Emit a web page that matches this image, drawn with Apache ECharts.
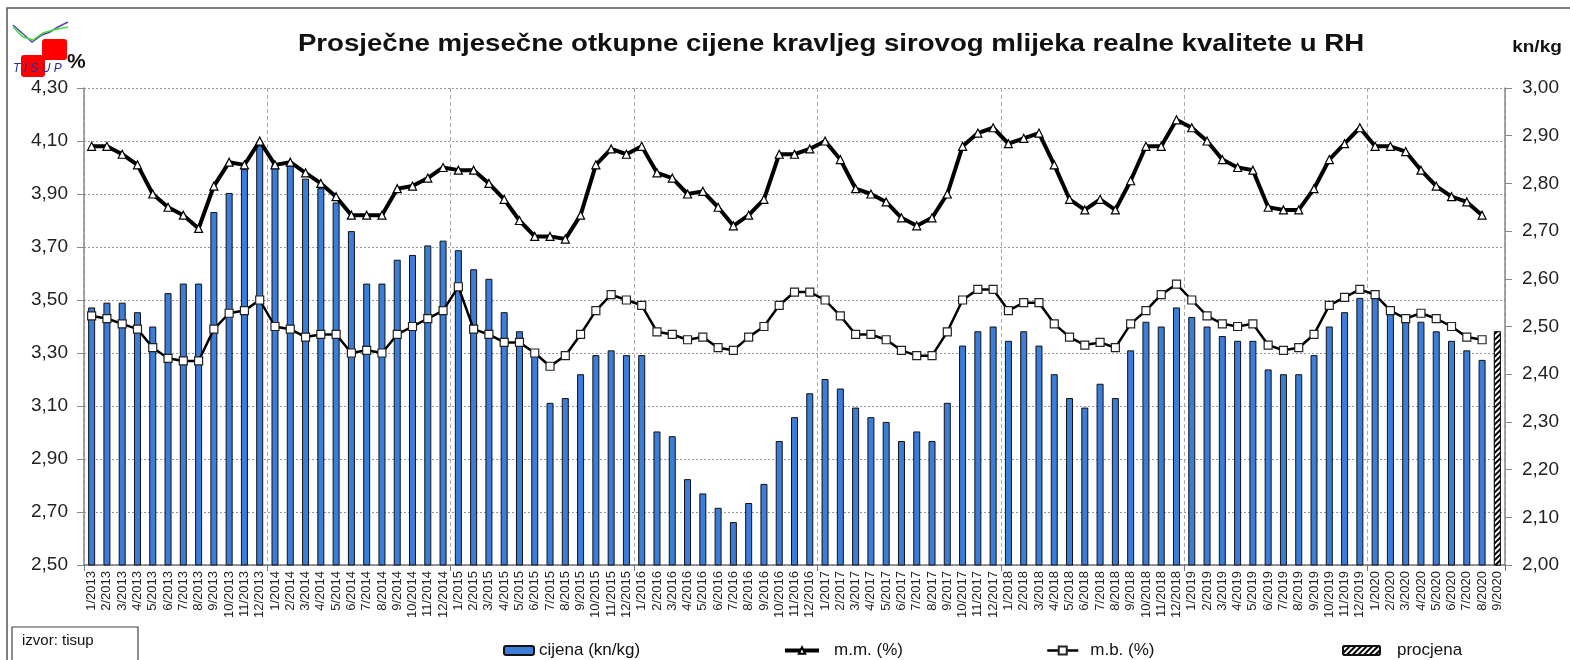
<!DOCTYPE html>
<html lang="hr">
<head>
<meta charset="UTF-8">
<title>Otkupne cijene mlijeka</title>
<style>
  html, body { margin: 0; padding: 0; background: #fff; }
  #chart { width: 1570px; height: 660px; }
</style>
</head>
<body>
<div id="chart"></div>
<script src="https://cdn.jsdelivr.net/npm/echarts@6/dist/echarts.min.js"></script>
<script>
// mjeseci
const months = [
  '1/2013','2/2013','3/2013','4/2013','5/2013','6/2013','7/2013','8/2013','9/2013','10/2013','11/2013','12/2013',
  '1/2014','2/2014','3/2014','4/2014','5/2014','6/2014','7/2014','8/2014','9/2014','10/2014','11/2014','12/2014',
  '1/2015','2/2015','3/2015','4/2015','5/2015','6/2015','7/2015','8/2015','9/2015','10/2015','11/2015','12/2015',
  '1/2016','2/2016','3/2016','4/2016','5/2016','6/2016','7/2016','8/2016','9/2016','10/2016','11/2016','12/2016',
  '1/2017','2/2017','3/2017','4/2017','5/2017','6/2017','7/2017','8/2017','9/2017','10/2017','11/2017','12/2017',
  '1/2018','2/2018','3/2018','4/2018','5/2018','6/2018','7/2018','8/2018','9/2018','10/2018','11/2018','12/2018',
  '1/2019','2/2019','3/2019','4/2019','5/2019','6/2019','7/2019','8/2019','9/2019','10/2019','11/2019','12/2019',
  '1/2020','2/2020','3/2020','4/2020','5/2020','6/2020','7/2020','8/2020','9/2020'
];

// cijena kn/kg (desna os)
const cijena = [
  2.54, 2.55, 2.55, 2.53, 2.50, 2.57, 2.59, 2.59, 2.74, 2.78, 2.83, 2.88,
  2.84, 2.84, 2.81, 2.79, 2.76, 2.70, 2.59, 2.59, 2.64, 2.65, 2.67, 2.68,
  2.66, 2.62, 2.60, 2.53, 2.49, 2.44, 2.34, 2.35, 2.40, 2.44, 2.45, 2.44,
  2.44, 2.28, 2.27, 2.18, 2.15, 2.12, 2.09, 2.13, 2.17, 2.26, 2.31, 2.36,
  2.39, 2.37, 2.33, 2.31, 2.30, 2.26, 2.28, 2.26, 2.34, 2.46, 2.49, 2.50,
  2.47, 2.49, 2.46, 2.40, 2.35, 2.33, 2.38, 2.35, 2.45, 2.51, 2.50, 2.54,
  2.52, 2.50, 2.48, 2.47, 2.47, 2.41, 2.40, 2.40, 2.44, 2.50, 2.53, 2.56,
  2.56, 2.53, 2.52, 2.51, 2.49, 2.47, 2.45, 2.43, null
];

// procjena (samo zadnji mjesec)
const procjena = new Array(92).fill(null).concat([2.49]);

// mliječna mast %
const mm = [
  4.08, 4.08, 4.05, 4.01, 3.90, 3.85, 3.82, 3.77, 3.93, 4.02, 4.01, 4.10,
  4.01, 4.02, 3.98, 3.94, 3.89, 3.82, 3.82, 3.82, 3.92, 3.93, 3.96, 4.00,
  3.99, 3.99, 3.94, 3.88, 3.80, 3.74, 3.74, 3.73, 3.82, 4.01, 4.07, 4.05,
  4.08, 3.98, 3.96, 3.90, 3.91, 3.85, 3.78, 3.82, 3.88, 4.05, 4.05, 4.07,
  4.10, 4.03, 3.92, 3.90, 3.87, 3.81, 3.78, 3.81, 3.90, 4.08, 4.13, 4.15,
  4.09, 4.11, 4.13, 4.01, 3.88, 3.84, 3.88, 3.84, 3.95, 4.08, 4.08, 4.18,
  4.15, 4.10, 4.03, 4.00, 3.99, 3.85, 3.84, 3.84, 3.92, 4.03, 4.09, 4.15,
  4.08, 4.08, 4.06, 3.99, 3.93, 3.89, 3.87, 3.82, null
];

// bjelančevine %
const mb = [
  3.44, 3.43, 3.41, 3.39, 3.32, 3.28, 3.27, 3.27, 3.39, 3.45, 3.46, 3.50,
  3.40, 3.39, 3.36, 3.37, 3.37, 3.30, 3.31, 3.30, 3.37, 3.40, 3.43, 3.46,
  3.55, 3.39, 3.37, 3.34, 3.34, 3.30, 3.25, 3.29, 3.37, 3.46, 3.52, 3.50,
  3.48, 3.38, 3.37, 3.35, 3.36, 3.32, 3.31, 3.36, 3.40, 3.48, 3.53, 3.53,
  3.50, 3.44, 3.37, 3.37, 3.35, 3.31, 3.29, 3.29, 3.38, 3.50, 3.54, 3.54,
  3.46, 3.49, 3.49, 3.41, 3.36, 3.33, 3.34, 3.32, 3.41, 3.46, 3.52, 3.56,
  3.50, 3.44, 3.41, 3.40, 3.41, 3.33, 3.31, 3.32, 3.37, 3.48, 3.51, 3.54,
  3.52, 3.46, 3.43, 3.45, 3.43, 3.40, 3.36, 3.35, null
];

const FONT = 'Liberation Sans, Arial, sans-serif';
const fmt = v => v.toFixed(2).replace('.', ',');
const yearStart = idx => idx % 12 === 0;

const chart = echarts.init(document.getElementById('chart'));

const legendText = pad => ({ fontFamily: FONT, fontSize: 17, color: '#111', padding: [0, 0, 0, pad] });
const legendBase = { top: 637, itemHeight: 9, selectedMode: false };

chart.setOption({
  backgroundColor: '#fff',
  animation: false,
  grid: { left: 84, right: 65, top: 88, bottom: 95 },
  legend: [
    Object.assign({}, legendBase, { left: 498, itemWidth: 30, data: ['cijena (kn/kg)'], textStyle: legendText(0) }),
    Object.assign({}, legendBase, { left: 778, itemWidth: 34, itemHeight: 8, data: ['m.m. (%)'],
      lineStyle: { width: 4, color: '#000' }, textStyle: legendText(10) }),
    Object.assign({}, legendBase, { left: 1041, itemWidth: 31, itemHeight: 10, data: ['m.b. (%)'],
      lineStyle: { width: 2.5, color: '#000' }, textStyle: legendText(7) }),
    Object.assign({}, legendBase, { left: 1337, itemWidth: 37, data: ['procjena'], textStyle: legendText(12) })
  ],
  xAxis: {
    type: 'category',
    data: months,
    boundaryGap: true,
    axisLine: { lineStyle: { color: '#777', width: 1.5 } },
    axisTick: { show: true, interval: yearStart, length: 6, lineStyle: { color: '#777' } },
    axisLabel: { interval: 0, rotate: 90, margin: 6, fontFamily: FONT, fontSize: 13, color: '#222' },
    splitLine: { show: true, interval: yearStart, lineStyle: { color: '#aaa', type: [4, 3], width: 1 } }
  },
  yAxis: [
    {
      type: 'value', min: 2.5, max: 4.3, interval: 0.2,
      axisLine: { show: true, lineStyle: { color: '#888', width: 1.5 } },
      axisTick: { show: true, length: 7, lineStyle: { color: '#888' } },
      axisLabel: { formatter: fmt, margin: 16, fontFamily: FONT, fontSize: 19, color: '#222' },
      splitLine: { show: true, lineStyle: { color: '#999', type: [2, 2], width: 1 } }
    },
    {
      type: 'value', min: 2.0, max: 3.0, interval: 0.1, position: 'right',
      axisLine: { show: true, lineStyle: { color: '#888', width: 1.5 } },
      axisTick: { show: true, length: 7, lineStyle: { color: '#888' } },
      axisLabel: { formatter: fmt, margin: 17, fontFamily: FONT, fontSize: 19, color: '#222' },
      splitLine: { show: false }
    }
  ],
  series: [
    {
      name: 'cijena (kn/kg)', type: 'bar', yAxisIndex: 1, data: cijena,
      barWidth: 7, z: 2,
      itemStyle: { color: '#3b7dd8', borderColor: '#111', borderWidth: 1 }
    },
    {
      name: 'procjena', type: 'bar', yAxisIndex: 1, data: procjena,
      barWidth: 7, barGap: '-100%', z: 2,
      itemStyle: {
        color: '#fff', borderColor: '#111', borderWidth: 1,
        decal: {
          symbol: 'rect', symbolSize: 1, dashArrayX: [1, 0], dashArrayY: [2, 2],
          rotation: -Math.PI / 4, color: '#000', backgroundColor: '#fff'
        }
      }
    },
    {
      name: 'm.m. (%)', type: 'line', yAxisIndex: 0, data: mm,
      symbol: 'triangle', symbolSize: 8, showAllSymbol: true, z: 5,
      lineStyle: { color: '#000', width: 4 },
      itemStyle: { color: '#fff', borderColor: '#000', borderWidth: 1.2 }
    },
    {
      name: 'm.b. (%)', type: 'line', yAxisIndex: 0, data: mb,
      symbol: 'rect', symbolSize: 8, showAllSymbol: true, z: 4,
      lineStyle: { color: '#000', width: 2.5 },
      itemStyle: { color: '#fff', borderColor: '#222', borderWidth: 1.2 }
    }
  ],
  graphic: [
    // okvir
    { type: 'rect', shape: { x: 7, y: 8, width: 1600, height: 700 }, style: { fill: 'none', stroke: '#555', lineWidth: 1.5 }, silent: true },
    // logo
    { type: 'rect', shape: { x: 42, y: 39, width: 25, height: 21, r: 3 }, style: { fill: '#ff0000' } },
    { type: 'rect', shape: { x: 21, y: 55, width: 24, height: 22, r: 3 }, style: { fill: '#ff0000' } },
    { type: 'polyline', shape: { points: [[13, 25], [22, 33], [32, 42], [42, 35], [50, 32], [58, 27], [68, 22]] }, style: { stroke: '#5544aa', lineWidth: 1.5, fill: null } },
    { type: 'polyline', shape: { points: [[13, 27], [23, 37], [33, 40], [43, 33], [53, 30], [68, 27]] }, style: { stroke: '#44dd44', lineWidth: 1.5, fill: null } },
    { type: 'text', x: 13, y: 63, style: { text: 'T I S U P', fontFamily: FONT, fontSize: 12, fontStyle: 'italic', fill: '#2a2a9a' } },
    // jedinice
    { type: 'text', x: 67, y: 52, style: { text: '%', fontFamily: FONT, fontSize: 21, fontWeight: 'bold', fill: '#111' } },
    { type: 'text', x: 1537, y: 47, scaleX: 1.12, style: { text: 'kn/kg', fontFamily: FONT, fontSize: 17, fontWeight: 'bold', fill: '#111', align: 'center', verticalAlign: 'middle' } },
    // naslov
    { type: 'text', x: 831, y: 45, scaleX: 1.2, style: {
        text: 'Prosječne mjesečne otkupne cijene kravljeg sirovog mlijeka realne kvalitete u RH',
        fontFamily: FONT, fontSize: 23, fontWeight: 'bold', fill: '#111', align: 'center', verticalAlign: 'middle' } },
    // izvor
    { type: 'rect', shape: { x: 12, y: 627, width: 126, height: 50 }, style: { fill: '#fff', stroke: '#444', lineWidth: 1.2 } },
    { type: 'text', x: 22, y: 633, style: { text: 'izvor: tisup', fontFamily: FONT, fontSize: 15, fill: '#111' } }
  ]
});

window.addEventListener('resize', () => chart.resize());
</script>
</body>
</html>
